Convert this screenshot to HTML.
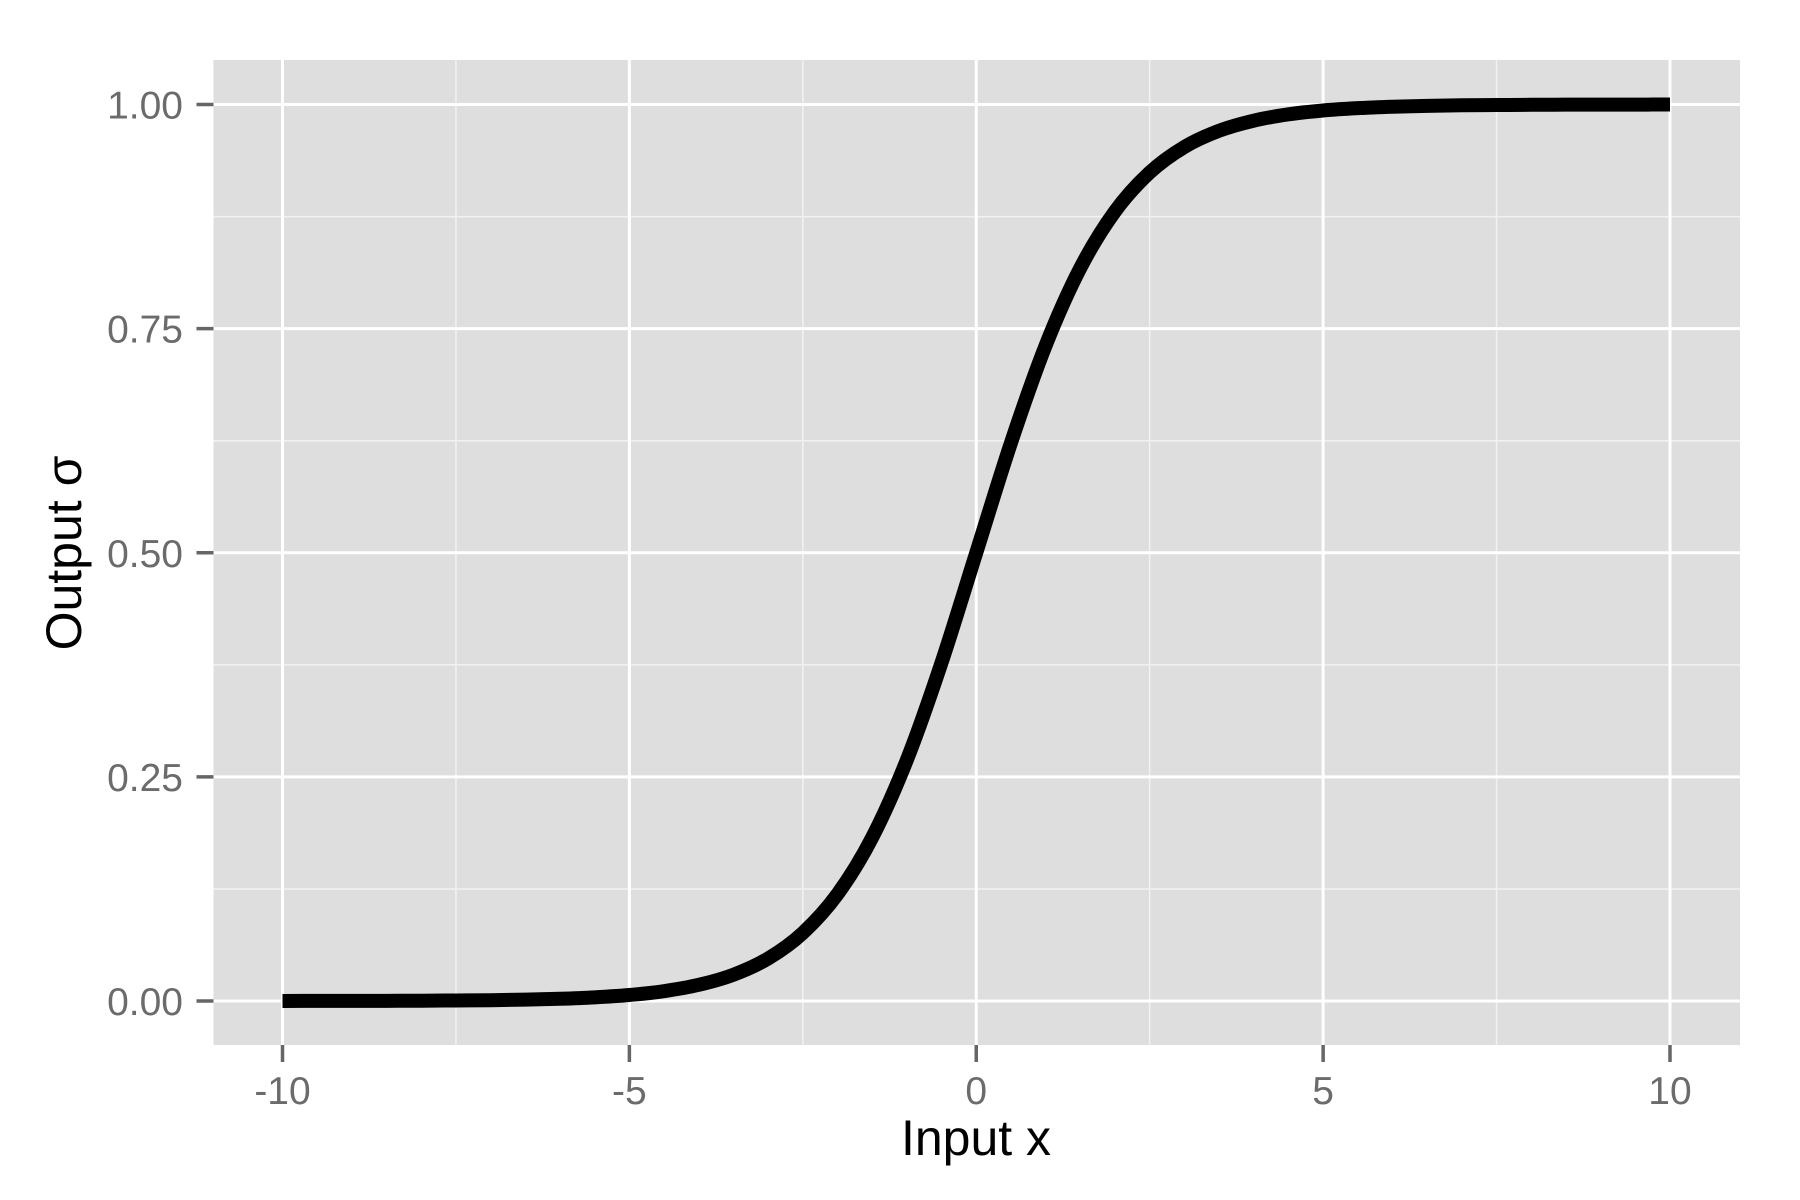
<!DOCTYPE html>
<html><head><meta charset="utf-8"><style>
html,body{margin:0;padding:0;background:#fff;}
svg{display:block;font-family:"Liberation Sans",sans-serif;}
</style></head><body>
<svg id="chart" width="1800" height="1200" viewBox="0 0 1800 1200" xmlns="http://www.w3.org/2000/svg">
<rect x="213.5" y="60" width="1526.5" height="985" fill="#dedede"/>
<g id="grid"></g><g id="axes"></g><g id="series"></g>
<text x="976" y="1155" font-size="50" text-anchor="middle" fill="#000">Input x</text>
<text transform="translate(81,553) rotate(-90)" font-size="50" text-anchor="middle" fill="#000">Output σ</text>
</svg>
<script>
const xs = [-10,-9.5,-9,-8.5,-8,-7.5,-7,-6.5,-6,-5.5,-5,-4.5,-4,-3.5,-3,-2.5,-2,-1.5,-1,-0.5,0,0.5,1,1.5,2,2.5,3,3.5,4,4.5,5,5.5,6,6.5,7,7.5,8,8.5,9,9.5,10];
const ys = [0.0000,0.0001,0.0001,0.0002,0.0003,0.0006,0.0009,0.0015,0.0025,0.0041,0.0067,0.0110,0.0180,0.0293,0.0474,0.0759,0.1192,0.1824,0.2689,0.3775,0.5000,0.6225,0.7311,0.8176,0.8808,0.9241,0.9526,0.9707,0.9820,0.9890,0.9933,0.9959,0.9975,0.9985,0.9991,0.9994,0.9997,0.9998,0.9999,0.9999,1.0000];
const xTicks = [-10,-5,0,5,10];
const xTickLabels = ["-10","-5","0","5","10"];
const xMinor = [-7.5,-2.5,2.5,7.5];
const yTicks = [0,0.25,0.5,0.75,1];
const yTickLabels = ["0.00","0.25","0.50","0.75","1.00"];
const yMinor = [0.125,0.375,0.625,0.875];

const X0=213.5,X1=1740,Y0=60,Y1=1045;
const sx = v => 282.5 + (v + 10) * (1670 - 282.5) / 20;
const sy = v => 1001 - v * (1001 - 104.5);
const NS="http://www.w3.org/2000/svg";
function mk(tag, attrs, parent){const e=document.createElementNS(NS,tag);for(const k in attrs)e.setAttribute(k,attrs[k]);parent.appendChild(e);return e;}
const grid=document.getElementById('grid'),axes=document.getElementById('axes'),series=document.getElementById('series');

xMinor.forEach(v=>{const l=mk('line',{x1:sx(v),x2:sx(v),y1:Y0,y2:Y1,stroke:'#f2f2f2','stroke-width':1.5},grid);

});
yMinor.forEach(v=>{const l=mk('line',{x1:X0,x2:X1,y1:sy(v),y2:sy(v),stroke:'#f2f2f2','stroke-width':1.5},grid);

});
xTicks.forEach((v,i)=>{
 const g=mk('line',{x1:sx(v),x2:sx(v),y1:Y0,y2:Y1,stroke:'#fff','stroke-width':3},grid);
 
 
 const t=mk('line',{x1:sx(v),x2:sx(v),y1:Y1,y2:Y1+17,stroke:'#666','stroke-width':3.5},axes);
 
 
 const tx=mk('text',{x:sx(v),y:1104,'font-size':39,'text-anchor':'middle',fill:'#6b6b6b'},axes);
 tx.textContent=xTickLabels[i];
 
 
});
yTicks.forEach((v,i)=>{
 const g=mk('line',{x1:X0,x2:X1,y1:sy(v),y2:sy(v),stroke:'#fff','stroke-width':3},grid);
 
 
 const t=mk('line',{x1:X0-17,x2:X0,y1:sy(v),y2:sy(v),stroke:'#666','stroke-width':3.5},axes);
 
 
 const tx=mk('text',{x:183,y:sy(v)+14,'font-size':39,'text-anchor':'end',fill:'#6b6b6b'},axes);
 tx.textContent=yTickLabels[i];
 
 
});
const P=xs.map((x,i)=>[sx(x),sy(ys[i])]);
let d='M'+P[0][0]+','+P[0][1];
for(let i=0;i<P.length-1;i++){
 const p0=P[Math.max(0,i-1)],p1=P[i],p2=P[i+1],p3=P[Math.min(P.length-1,i+2)];
 const c1=[p1[0]+(p2[0]-p0[0])/6,p1[1]+(p2[1]-p0[1])/6];
 const c2=[p2[0]-(p3[0]-p1[0])/6,p2[1]-(p3[1]-p1[1])/6];
 d+=' C'+c1[0]+','+c1[1]+' '+c2[0]+','+c2[1]+' '+p2[0]+','+p2[1];
}
const line=mk('path',{d:d,fill:'none',stroke:'#000','stroke-width':14,'stroke-linecap':'butt','stroke-linejoin':'round'},series);


</script>
</body></html>
